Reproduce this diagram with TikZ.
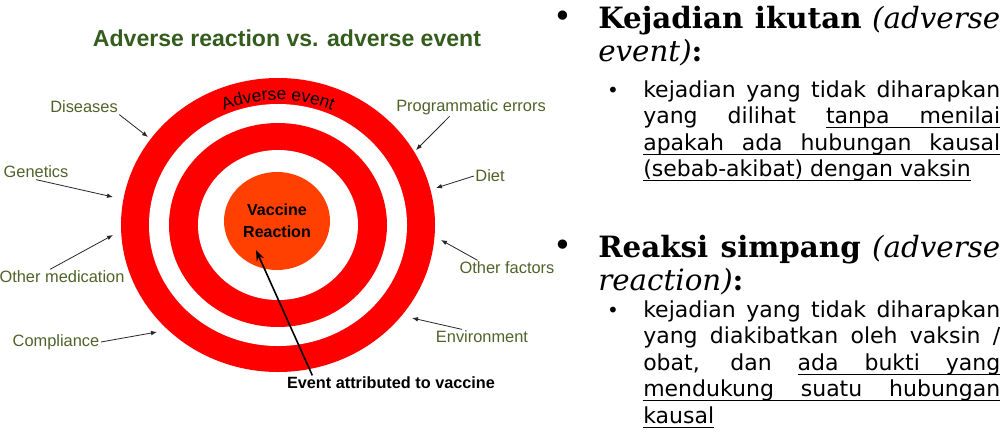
\documentclass[tikz,border=0pt]{standalone}
\usepackage{fontspec}
\usetikzlibrary{arrows.meta}
\usetikzlibrary{decorations.text}
\newfontfamily\lbfont{Liberation Sans}
\newfontfamily\hdfont{DejaVu Serif}
\newfontfamily\bdfont{DejaVu Sans}
\definecolor{titlegreen}{RGB}{52,92,28}
\definecolor{labgreen}{RGB}{79,98,40}
\definecolor{ringred}{RGB}{255,0,0}
\definecolor{corered}{RGB}{255,64,0}
% underlined word and underlined (stretchable) space
\newcommand\ulw[1]{\setbox0\hbox{#1}\rlap{\vrule height -2.6pt depth 3.4pt width \wd0}\box0}
\newcommand\uls{\leaders\hrule height -2.6pt depth 3.4pt\hskip\fontdimen2\font plus \fontdimen3\font minus \fontdimen4\font}
\tikzset{
  lab/.style={font=\lbfont\fontsize{12.3}{14}\selectfont, text=labgreen, inner sep=1pt},
  labarrow/.style={draw=black!85, line width=0.6pt, -{Latex[length=4.5pt,width=3.5pt]}},
  head/.style={anchor=base west, text width=301.5pt, align=justify, inner sep=0pt,
    font=\hdfont\fontsize{22}{25}\selectfont},
  body/.style={anchor=base west, text width=267.75pt, align=justify, inner sep=0pt,
    font=\bdfont\fontsize{16.5}{19.9}\selectfont},
  bul/.style={anchor=base, inner sep=0pt, font=\bdfont\fontsize{#1}{#1}\selectfont},
}
\begin{document}
\begin{tikzpicture}[x=0.75pt,y=0.75pt]
\useasboundingbox (0,0) rectangle (1005,-446);
% target
\fill[ringred] (278,-225) ellipse [x radius=157, y radius=147];
\fill[white] (278,-225) ellipse [x radius=129, y radius=121];
\fill[ringred] (278,-225) ellipse [x radius=109, y radius=102];
\fill[white] (278,-225) ellipse [x radius=80, y radius=75];
\fill[corered] (277,-221) ellipse [x radius=53, y radius=49];
\path[decorate, decoration={text along path, text align=center,
    text={|\lbfont\fontsize{13}{13}\selectfont|Adverse event}}]
  (278,-225) ++(125:133 and 125) arc [start angle=125, end angle=55, x radius=133, y radius=125];
\node[font=\lbfont\bfseries\fontsize{12}{16.5}\selectfont, align=center] (vr) at (277,-221) {Vaccine\\Reaction};

\node[font=\lbfont\bfseries\fontsize{17.3}{20}\selectfont, text=titlegreen] (title) at (287,-38) {Adverse reaction vs. adverse event};

% labels round the target
\node[lab] (dis) at (84,-107) {Diseases};
\node[lab] (gen) at (36,-172) {Genetics};
\node[lab] (med) at (62,-277) {Other medication};
\node[lab] (com) at (56,-342) {Compliance};
\node[lab] (prog) at (471,-107) {Programmatic errors};
\node[lab] (diet) at (490,-176) {Diet};
\node[lab] (oth) at (507,-268) {Other factors};
\node[lab] (env) at (482,-337) {Environment};
\node[font=\lbfont\bfseries\fontsize{12.2}{14}\selectfont, inner sep=1pt] (evt) at (391,-383) {Event attributed to vaccine};

\coordinate (disT) at (148,-137);
\coordinate (genT) at (113,-197);
\coordinate (medT) at (113,-235);
\coordinate (comT) at (157,-332);
\coordinate (progT) at (416,-150);
\coordinate (dietT) at (436,-188);
\coordinate (othT) at (441,-240);
\coordinate (envT) at (412,-318);
\coordinate (evtT) at (256,-250);

\draw[labarrow] (dis.south east) -- (disT);
\draw[labarrow] (gen.south) -- (genT);
\draw[labarrow] ([xshift=-9pt]med.north) -- (medT);
\draw[labarrow] (com.east) -- (comT);
\draw[labarrow] ([xshift=-16pt]prog.south) -- (progT);
\draw[labarrow] (diet.west) -- (dietT);
\draw[labarrow] ([xshift=-22pt]oth.north) -- (othT);
\draw[labarrow] ([xshift=-15pt]env.north) -- (envT);
\draw[line width=1.2pt, -{Stealth[length=8pt,width=6pt]}] ([xshift=-59pt]evt.north) -- (evtT);

% text on the right
\node[bul=24] (b1) at (563,-27) {•};
\node[head] (h1) at (598,-28) {\textbf{Kejadian ikutan} \textit{(adverse\linebreak event)}\textbf{:}};
\node[bul=15] (s1) at (613,-97) {•};
\node[body] (t1) at (643,-97) {kejadian yang tidak diharapkan\linebreak yang dilihat \ulw{tanpa}\uls\ulw{menilai}\linebreak
  \ulw{apakah}\uls\ulw{ada}\uls\ulw{hubungan}\uls\ulw{kausal}\linebreak
  \ulw{(sebab-akibat)}\uls\ulw{dengan}\uls\ulw{vaksin}};

\node[bul=24] (b2) at (563,-256) {•};
\node[head] (h2) at (598,-257) {\textbf{Reaksi simpang} \textit{(adverse\linebreak reaction)}\textbf{:}};
\node[bul=15] (s2) at (613,-317) {•};
\node[body] (t2) at (643,-317) {kejadian yang tidak diharapkan\linebreak yang diakibatkan oleh vaksin /\linebreak
  obat, dan \ulw{ada}\uls\ulw{bukti}\uls\ulw{yang}\linebreak
  \ulw{mendukung}\uls\ulw{suatu}\uls\ulw{hubungan}\linebreak \ulw{kausal}};
\end{tikzpicture}
\end{document}
